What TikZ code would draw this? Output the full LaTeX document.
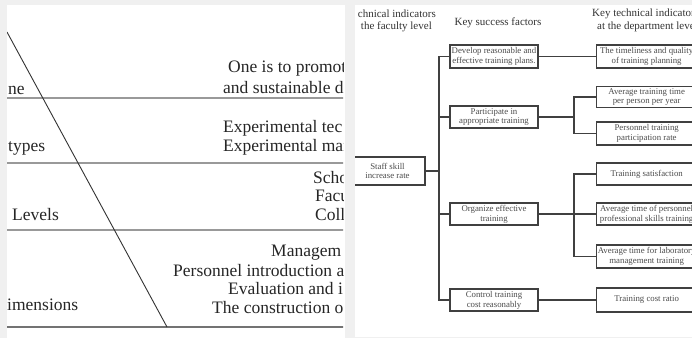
\documentclass[tikz,border=0pt]{standalone}
\usepackage{fontspec}
\setmainfont{Liberation Serif}
\begin{document}
\begin{tikzpicture}[x=1pt,y=-1pt,
  ltxt/.style={anchor=west,inner sep=0pt,font=\fontsize{17.5}{18}\selectfont,text=black!85},
  hdr/.style={inner sep=0pt,font=\fontsize{11}{12}\selectfont,text=black!80},
  bx/.style={draw=black!75,line width=1.3pt,align=center,inner sep=0pt,
    font=\fontsize{8.8}{9.8}\selectfont,text=black!70},
  conn/.style={draw=black!75,line width=1.1pt},
  hline/.style={draw=black!40,line width=1.5pt}]
\useasboundingbox (0,0) rectangle (692,338);
\fill[black!6] (0,0) rectangle (692,338);
\fill[white] (7,5) rectangle (345,338);
\fill[white] (355,5) rectangle (692,337);
% ---------- left panel ----------
\begin{scope}
\clip (7,5) rectangle (343,338);
\draw[hline] (7,98) -- (345,98);
\draw[hline] (7,163) -- (345,163);
\draw[hline] (7,230) -- (345,230);
\draw[draw=black!55,line width=1.8pt] (7,327) -- (345,327);
\draw[black!80,line width=0.9pt] (7,32) -- (167,327);
\node[ltxt] (t1) at (228,69) {One is to promot};
\node[ltxt] (t2) at (223,88) {and sustainable d};
\node[ltxt] (t3) at (223,128) {Experimental tec};
\node[ltxt] (t4) at (223,147) {Experimental mar};
\node[ltxt] (t5) at (313,178) {Scho};
\node[ltxt] (t6) at (315,196) {Facu};
\node[ltxt] (t7) at (315,215) {Coll};
\node[ltxt] (t8) at (271,253) {Managem};
\node[ltxt] (t9) at (173,271) {Personnel introduction a};
\node[ltxt] (t10) at (228,289) {Evaluation and i};
\node[ltxt] (t11) at (212,308) {The construction o};
\node[ltxt] (l1) at (8,90) {ne};
\node[ltxt] (l2) at (8,148) {types};
\node[ltxt] (l3) at (12,215) {Levels};
\node[ltxt] (l4) at (7,305) {imensions};
\end{scope}
% ---------- right panel ----------
\begin{scope}
\clip (355,5) rectangle (692,337);
\node[hdr,anchor=east] (h1a) at (436,14) {chnical indicators};
\node[hdr,anchor=east] (h1b) at (432,26.5) {the faculty level};
\node[hdr] (h2) at (498,23) {Key success factors};
\node[hdr,anchor=west] (h3a) at (592,14) {Key technical indicators};
\node[hdr,anchor=west] (h3b) at (597,26.5) {at the department level};

\node[bx,minimum width=75pt,minimum height=28pt] (root) at (387.5,171) {Staff skill\\increase rate};

\node[bx,minimum width=88pt,minimum height=23pt] (b1) at (494,56.5) {Develop reasonable and\\effective training plans.};
\node[bx,minimum width=88pt,minimum height=22pt] (b2) at (494,117) {Participate in\\appropriate training};
\node[bx,minimum width=88pt,minimum height=22pt] (b3) at (494,214) {Organize effective\\training};
\node[bx,minimum width=88pt,minimum height=22pt] (b4) at (494,300) {Control training\\cost reasonably};

\node[bx,minimum width=100pt,minimum height=23pt,anchor=west] (c1) at (596,56.5) {The timeliness and quality\\of training planning};
\node[bx,minimum width=100pt,minimum height=21pt,anchor=west] (c2) at (596,97) {Average training time\\per person per year};
\node[bx,minimum width=100pt,minimum height=23pt,anchor=west] (c3) at (596,133.5) {Personnel training\\participation rate};
\node[bx,minimum width=100pt,minimum height=22pt,anchor=west] (c4) at (596,174) {Training satisfaction};
\node[bx,minimum width=100pt,minimum height=22pt,anchor=west] (c5) at (596,214) {Average time of personnel\\professional skills training};
\node[bx,minimum width=100pt,minimum height=23pt,anchor=west] (c6) at (596,256.5) {Average time for laboratory\\management training};
\node[bx,minimum width=100pt,minimum height=24pt,anchor=west] (c7) at (596,300) {Training cost ratio};

\coordinate (tr) at (439,171);
\coordinate (j2) at (574,117);
\coordinate (j3) at (574,214);
\draw[conn] (root.east) -- (tr);
\draw[conn] (b1.west) -| (tr) |- (b4.west);
\draw[conn] (tr |- b2.west) -- (b2.west);
\draw[conn] (tr |- b3.west) -- (b3.west);
\draw[conn] (b1.east) -- (c1.west);
\draw[conn] (b2.east) -- (j2);
\draw[conn] (c2.west) -| (j2) |- (c3.west);
\draw[conn] (b3.east) -- (c5.west);
\draw[conn] (c4.west) -| (j3) |- (c6.west);
\draw[conn] (b4.east) -- (c7.west);
\end{scope}
\end{tikzpicture}
\end{document}
